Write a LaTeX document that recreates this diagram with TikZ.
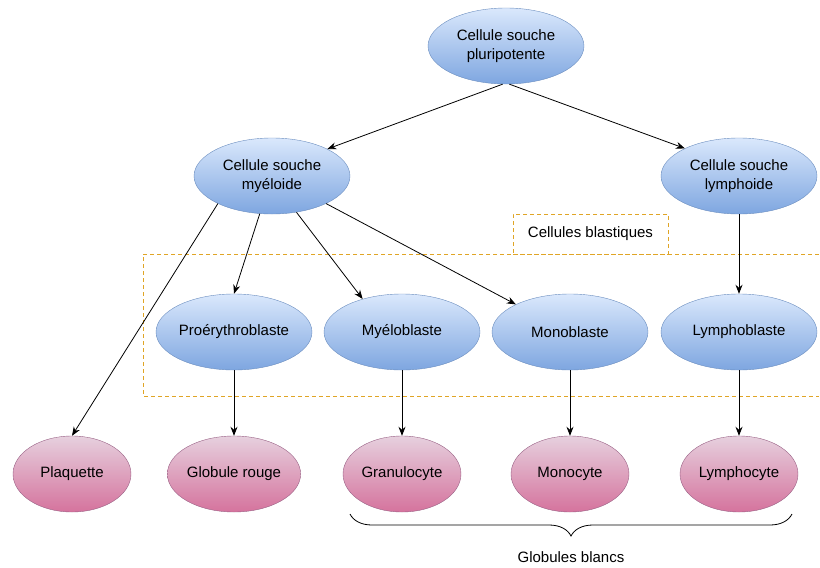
\documentclass[tikz,border=0pt]{standalone}
\usepackage{fontspec}
\setmainfont{Liberation Sans}
\usetikzlibrary{arrows.meta,decorations.pathreplacing,shapes.geometric}
\definecolor{bluetop}{HTML}{DAE8FC}
\definecolor{bluebot}{HTML}{7EA6E0}
\definecolor{blueline}{HTML}{6C8EBF}
\definecolor{pinktop}{HTML}{E6D0DE}
\definecolor{pinkbot}{HTML}{D5739D}
\definecolor{pinkline}{HTML}{996185}
\definecolor{blastline}{HTML}{E0A526}
\tikzset{
  labelfont/.style={font=\fontsize{15}{19.5}\selectfont},
  cell/.style={ellipse, inner sep=0pt, align=center, labelfont},
  bluecell/.style={cell, draw=blueline, top color=bluetop, bottom color=bluebot,
    minimum width=156pt, minimum height=76pt},
  pinkcell/.style={cell, draw=pinkline, top color=pinktop, bottom color=pinkbot,
    minimum width=118pt, minimum height=76pt},
  blastbox/.style={draw=blastline, dashed, dash pattern=on 4pt off 3pt, line width=0.8pt},
}
\begin{document}
\begin{tikzpicture}[x=1pt, y=-1pt]
      \useasboundingbox (0,0) rectangle (820,568);
      % cellules blastiques
      \draw[blastbox] (819,254) -- (143,254) -- (143,396) -- (819,396);
      \node[blastbox, minimum width=155pt, minimum height=40pt, labelfont]
        (blast) at (590.5,234) {Cellules blastiques};
      \draw
        (506,46) node[bluecell] (stem){Cellule souche\\pluripotente}
        (272,176) node[bluecell] (myelo){Cellule souche\\myéloide}
        (739,176) node[bluecell] (lympho){Cellule souche\\lymphoide}
        (234,332) node[bluecell] (proery){Proérythroblaste}
        (402,332) node[bluecell] (myeloblast){Myéloblaste}
        (570,332) node[bluecell] (monoblast){Monoblaste}
        (739,332) node[bluecell] (lymphoblast){Lymphoblaste}
        (72,474) node[pinkcell] (plaq){Plaquette}
        (234,474) node[pinkcell] (rouge){Globule rouge}
        (402,474) node[pinkcell] (granu){Granulocyte}
        (570,474) node[pinkcell] (mono){Monocyte}
        (739,474) node[pinkcell] (lympho2){Lymphocyte};
      \begin{scope}[-{Stealth[length=9pt,width=7pt]}, line width=0.8pt]
        \draw (stem.265) to (myelo.26);
        \draw (stem.275) to (lympho.153);
        \draw (myelo.207) to (plaq.north);
        \draw (myelo.252) to (proery.north);
        \draw (myelo.304) to (myeloblast.140);
        \draw (myelo.333) to (monoblast.153);
        \draw (lympho) to (lymphoblast);
        \draw (proery) to (rouge);
        \draw (myeloblast) to (granu);
        \draw (monoblast) to (mono);
        \draw (lymphoblast) to (lympho2);
      \end{scope}
      % globules blancs
      \coordinate (braceL) at (350,514);
      \coordinate (braceR) at (792,514);
      \draw[decorate, decoration={brace, mirror, amplitude=22pt}, line width=0.8pt]
        (braceL) -- (braceR);
      \node[labelfont] (blancs) at (571,557) {Globules blancs};
    \end{tikzpicture}
\end{document}
